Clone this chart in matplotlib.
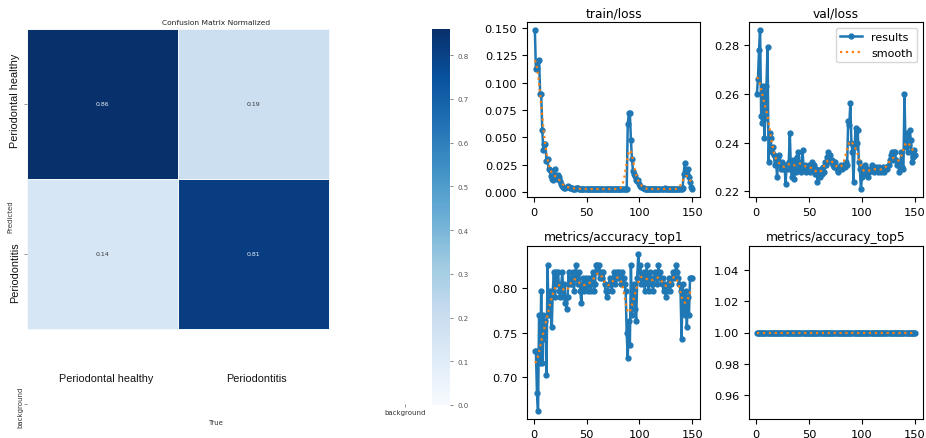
import numpy as np
import matplotlib
matplotlib.use("Agg")
import matplotlib.pyplot as plt

# ---------------- data ----------------
cm_labels = ["Periodontal healthy", "Periodontitis"]
cm_values = [[0.86, 0.19],
             [0.14, 0.81]]

epochs = list(range(1, 151))

train_loss = [
    0.148, 0.112, 0.113, 0.120, 0.121, 0.090, 0.090, 0.057, 0.039, 0.044,
    0.044, 0.029, 0.030, 0.021, 0.020, 0.015, 0.012, 0.011, 0.016, 0.021,
    0.014, 0.012, 0.016, 0.014, 0.010, 0.008, 0.006, 0.005, 0.004, 0.004,
    0.005, 0.006, 0.005, 0.004, 0.004, 0.004, 0.003, 0.003, 0.003, 0.004,
    0.004, 0.004, 0.003, 0.003, 0.003, 0.003, 0.003, 0.003, 0.003, 0.003,
    0.003, 0.003, 0.003, 0.003, 0.003, 0.003, 0.003, 0.003, 0.003, 0.003,
    0.003, 0.003, 0.003, 0.003, 0.003, 0.003, 0.003, 0.003, 0.003, 0.003,
    0.003, 0.003, 0.003, 0.003, 0.003, 0.003, 0.003, 0.003, 0.003, 0.003,
    0.003, 0.003, 0.003, 0.003, 0.003, 0.003, 0.003, 0.003, 0.062, 0.072,
    0.072, 0.048, 0.030, 0.019, 0.017, 0.015, 0.011, 0.010, 0.011, 0.008,
    0.006, 0.005, 0.004, 0.004, 0.003, 0.003, 0.003, 0.003, 0.003, 0.003,
    0.003, 0.003, 0.003, 0.003, 0.003, 0.003, 0.003, 0.003, 0.003, 0.003,
    0.003, 0.003, 0.003, 0.004, 0.003, 0.003, 0.003, 0.003, 0.003, 0.003,
    0.003, 0.003, 0.003, 0.003, 0.003, 0.003, 0.003, 0.003, 0.003, 0.003,
    0.004, 0.017, 0.027, 0.020, 0.017, 0.021, 0.014, 0.009, 0.005, 0.003,
]

val_loss = [
    0.260, 0.266, 0.278, 0.286, 0.251, 0.248, 0.263, 0.242, 0.250, 0.263,
    0.279, 0.232, 0.244, 0.242, 0.236, 0.238, 0.235, 0.231, 0.233, 0.226,
    0.234, 0.235, 0.231, 0.229, 0.232, 0.229, 0.231, 0.223, 0.231, 0.229,
    0.232, 0.244, 0.229, 0.226, 0.233, 0.225, 0.232, 0.228, 0.234, 0.236,
    0.229, 0.232, 0.228, 0.237, 0.229, 0.231, 0.228, 0.230, 0.229, 0.231,
    0.228, 0.230, 0.232, 0.229, 0.231, 0.227, 0.229, 0.224, 0.228, 0.226,
    0.229, 0.227, 0.230, 0.228, 0.232, 0.231, 0.234, 0.236, 0.233, 0.235,
    0.232, 0.233, 0.231, 0.230, 0.232, 0.229, 0.228, 0.230, 0.229, 0.231,
    0.229, 0.230, 0.231, 0.230, 0.232, 0.231, 0.249, 0.247, 0.256, 0.240,
    0.236, 0.224, 0.238, 0.246, 0.240, 0.245, 0.232, 0.229, 0.221, 0.226,
    0.230, 0.228, 0.231, 0.227, 0.229, 0.226, 0.228, 0.229, 0.231, 0.230,
    0.228, 0.229, 0.230, 0.229, 0.228, 0.230, 0.229, 0.228, 0.229, 0.230,
    0.228, 0.229, 0.230, 0.229, 0.231, 0.233, 0.235, 0.236, 0.233, 0.236,
    0.236, 0.233, 0.231, 0.232, 0.228, 0.230, 0.236, 0.230, 0.229, 0.260,
    0.238, 0.244, 0.236, 0.239, 0.245, 0.241, 0.232, 0.234, 0.237, 0.235,
]

acc_top1 = [
    0.729, 0.729, 0.682, 0.662, 0.770, 0.716, 0.797, 0.716, 0.770, 0.743,
    0.763, 0.702, 0.825, 0.770, 0.797, 0.790, 0.756, 0.797, 0.818, 0.790,
    0.818, 0.804, 0.818, 0.797, 0.790, 0.804, 0.818, 0.790, 0.804, 0.783,
    0.776, 0.790, 0.818, 0.804, 0.811, 0.804, 0.818, 0.797, 0.811, 0.825,
    0.811, 0.804, 0.818, 0.797, 0.783, 0.804, 0.811, 0.797, 0.811, 0.804,
    0.797, 0.811, 0.804, 0.797, 0.811, 0.818, 0.797, 0.804, 0.825, 0.825,
    0.818, 0.825, 0.811, 0.818, 0.811, 0.818, 0.804, 0.797, 0.790, 0.797,
    0.804, 0.811, 0.804, 0.797, 0.811, 0.818, 0.804, 0.811, 0.818, 0.811,
    0.818, 0.811, 0.804, 0.818, 0.811, 0.804, 0.797, 0.749, 0.722, 0.763,
    0.736, 0.825, 0.770, 0.797, 0.804, 0.776, 0.763, 0.811, 0.838, 0.818,
    0.825, 0.804, 0.811, 0.818, 0.797, 0.811, 0.825, 0.804, 0.797, 0.818,
    0.811, 0.804, 0.797, 0.811, 0.818, 0.811, 0.804, 0.825, 0.811, 0.818,
    0.804, 0.811, 0.797, 0.804, 0.790, 0.797, 0.804, 0.811, 0.797, 0.804,
    0.811, 0.818, 0.811, 0.818, 0.825, 0.818, 0.811, 0.804, 0.797, 0.743,
    0.804, 0.783, 0.770, 0.797, 0.756, 0.790, 0.770, 0.811, 0.811, 0.811,
]

acc_top5 = [1.0] * 150

panel_titles = ["train/loss", "val/loss", "metrics/accuracy_top1", "metrics/accuracy_top5"]

# ---------------- helpers ----------------
W, H = 926, 439
fig = plt.figure(figsize=(W / 100, H / 100), dpi=100)


def box(l, t, r, b):
    return [l / W, 1 - b / H, (r - l) / W, (b - t) / H]


def px(x, y):
    return x / W, 1 - y / H


def gsmooth(y, sigma=3.0):
    y = np.asarray(y, dtype=float)
    r = int(4 * sigma + 0.5)
    k = np.exp(-0.5 * (np.arange(-r, r + 1) / sigma) ** 2)
    k /= k.sum()
    yp = np.pad(y, r, mode="symmetric")
    return np.convolve(yp, k, mode="valid")


# ---------------- confusion matrix ----------------
cm = np.array(cm_values)
ax = fig.add_axes(box(27, 30, 405, 405))
n = cm.shape[0]
mesh = ax.pcolormesh(np.arange(n + 1), np.arange(n + 1), cm, cmap="Blues",
                     vmin=0, vmax=cm.max(), edgecolors="#f4f7fb", linewidth=0.5)
ax.set_xlim(0, n + 0.5)
ax.set_ylim(n + 0.5, 0)
for s in ax.spines.values():
    s.set_visible(False)
for i in range(n):
    for j in range(n):
        v = cm[i, j]
        ax.text(j + 0.5, i + 0.5, f"{v:.2f}", ha="center", va="center",
                fontsize=4.5, color="#e8eef6" if v > 0.5 else "#333333")
ax.set_xticks([n + 0.5])
ax.set_xticklabels([""])
ax.set_yticks([0.5, 1.5, n + 0.5])
ax.set_yticklabels(["", "", ""])
ax.tick_params(length=2, width=0.5, colors="#666666")

big = dict(family="Liberation Sans", fontsize=7.8, color="#111111")
fig.text(*px(106, 379), cm_labels[0], ha="center", va="center", **big)
fig.text(*px(256, 379), cm_labels[1], ha="center", va="center", **big)
fig.text(*px(15, 101), cm_labels[0], ha="center", va="center", rotation=90, **big)
fig.text(*px(15, 273), cm_labels[1], ha="center", va="center", rotation=90, **big)

small = dict(fontsize=5, color="#333333")
fig.text(*px(216, 23), "Confusion Matrix Normalized", ha="center", va="center",
         fontsize=5.4, color="#222222")
fig.text(*px(10, 217), "Predicted", ha="center", va="center", rotation=90, **small)
fig.text(*px(216, 423), "True", ha="center", va="center", **small)
fig.text(*px(405, 413), "background", ha="center", va="center", **small)
fig.text(*px(20, 407), "background", ha="center", va="center", rotation=90, **small)

cax = fig.add_axes(box(432, 30, 450, 406))
cb = fig.colorbar(mesh, cax=cax)
cb.outline.set_visible(False)
cb.set_ticks(np.round(np.arange(0, 0.81, 0.1), 1))
cax.tick_params(labelsize=5, length=2, width=0.5, colors="#555555")

# ---------------- training curves ----------------
series = [train_loss, val_loss, acc_top1, acc_top5]
positions = [box(527, 23, 700, 198), box(749, 23, 923, 198),
             box(527, 247, 700, 420), box(749, 247, 923, 420)]
x = np.array(epochs)
for k, (title, y, pos) in enumerate(zip(panel_titles, series, positions)):
    a = fig.add_axes(pos)
    a.plot(x, y, marker=".", lw=1.8, ms=7, color="#1f77b4", label="results")
    a.plot(x, gsmooth(y), ":", color="#ff7f0e", lw=1.6, label="smooth")
    a.set_title(title, fontsize=8.8, pad=4)
    a.tick_params(labelsize=8.2)
    if k == 1:
        a.legend(fontsize=8, loc="upper right")

fig.savefig("out.png", dpi=100)
